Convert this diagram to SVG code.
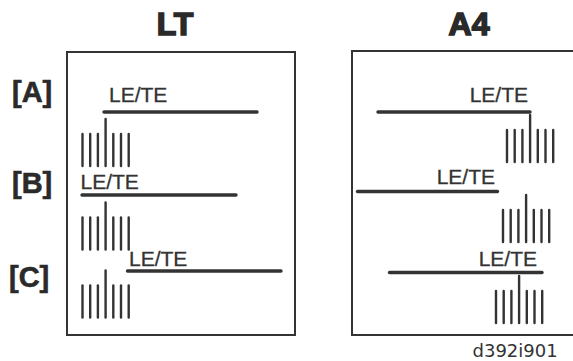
<svg xmlns="http://www.w3.org/2000/svg" width="573" height="361" viewBox="0 0 573 361">
<style>
.box{fill:none;stroke:#333;stroke-width:2}
.title{font-family:"Liberation Sans",Arial,sans-serif;font-weight:bold;font-size:32px;fill:#2a2a2a;stroke:#2a2a2a;stroke-width:1.6;text-anchor:middle}
.row{font-family:"Liberation Sans",Arial,sans-serif;font-weight:bold;font-size:29px;fill:#2a2a2a;stroke:#2a2a2a;stroke-width:0.6}
.lbl{font-family:"Liberation Sans",Arial,sans-serif;font-size:21px;fill:#333;stroke:#333;stroke-width:0.3}
.bar{stroke:#333;stroke-width:3.4;stroke-linecap:round}
.tick{stroke:#333;stroke-width:2.4;stroke-linecap:round}
.code{font-family:"DejaVu Sans",sans-serif;font-size:18px;fill:#333}
</style>
<defs>
<g id="ticks">
<line class="tick" x1="0" y1="15" x2="0" y2="47"/>
<line class="tick" x1="7.7" y1="15" x2="7.7" y2="47"/>
<line class="tick" x1="15.4" y1="15" x2="15.4" y2="47"/>
<line class="tick" x1="23.1" y1="0" x2="23.1" y2="47"/>
<line class="tick" x1="30.8" y1="15" x2="30.8" y2="47"/>
<line class="tick" x1="38.5" y1="15" x2="38.5" y2="47"/>
<line class="tick" x1="46.2" y1="15" x2="46.2" y2="47"/>
</g>
</defs>
<g id="titles">
<text class="title" x="175" y="35">LT</text>
<text class="title" x="469" y="35">A4</text>
</g>
<g id="row-labels">
<text class="row" x="12" y="102">[A]</text>
<text class="row" x="12" y="193">[B]</text>
<text class="row" x="9" y="287">[C]</text>
</g>
<g id="box-lt">
<rect class="box" x="67" y="52" width="228" height="283"/>
<g id="lt-a">
<text class="lbl" x="109" y="102">LE/TE</text>
<line class="bar" x1="104" y1="112" x2="257" y2="112"/>
<use href="#ticks" x="82.5" y="119"/>
</g>
<g id="lt-b">
<text class="lbl" x="80.5" y="189">LE/TE</text>
<line class="bar" x1="82" y1="195" x2="236" y2="195"/>
<use href="#ticks" x="82.5" y="202.5"/>
</g>
<g id="lt-c">
<text class="lbl" x="129" y="266">LE/TE</text>
<line class="bar" x1="127.5" y1="271" x2="281" y2="271"/>
<use href="#ticks" x="82.5" y="270.5"/>
</g>
</g>
<g id="box-a4">
<rect class="box" x="352" y="51" width="226" height="284"/>
<g id="a4-a">
<text class="lbl" x="528" y="102" text-anchor="end">LE/TE</text>
<line class="bar" x1="378" y1="112" x2="530" y2="112"/>
<use href="#ticks" x="507" y="115"/>
</g>
<g id="a4-b">
<text class="lbl" x="495" y="183.5" text-anchor="end">LE/TE</text>
<line class="bar" x1="357.5" y1="191.5" x2="497.5" y2="191.5"/>
<use href="#ticks" x="503" y="195"/>
</g>
<g id="a4-c">
<text class="lbl" x="537" y="266" text-anchor="end">LE/TE</text>
<line class="bar" x1="389.5" y1="272.5" x2="542" y2="272.5"/>
<use href="#ticks" x="496" y="276"/>
</g>
</g>
<g id="connectors"/>
<text class="code" x="472.5" y="357">d392i901</text>
</svg>
